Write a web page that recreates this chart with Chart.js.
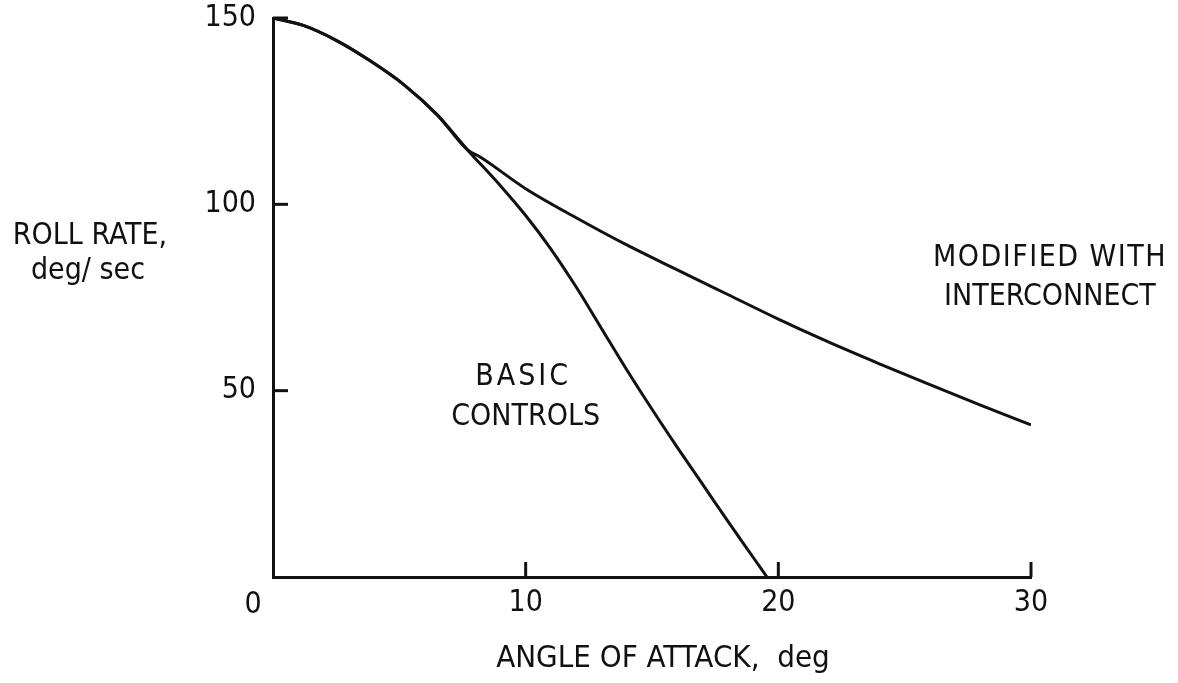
<!DOCTYPE html>
<html>
<head>
<meta charset="utf-8">
<title>Roll rate vs angle of attack</title>
<script src="https://cdn.jsdelivr.net/npm/chart.js@4/dist/chart.umd.min.js"></script>
<style>
  html, body { margin: 0; padding: 0; background: #fff; }
  #chart { display: block; }
</style>
</head>
<body>
<canvas id="chart" width="1178" height="683"></canvas>
<script>
// --- data ---
const basicAngle = [0, 1.2, 2.5, 3.8, 5.2, 6.5, 7.7, 9, 10, 11, 12, 13, 14, 15, 16, 17, 18, 19, 19.55];
const basicRate  = [150, 148, 144, 138.7, 132, 124, 114.6, 105, 97, 88, 77.8, 66.7, 55.6, 45, 34.8, 24.9, 15, 5.3, 0];

const modAngle = [0, 1.2, 2.5, 3.8, 5.2, 6.5, 7.7, 8.2, 10, 12, 14, 16, 18, 20, 22, 24, 26, 28, 30];
const modRate  = [150, 148, 144, 138.7, 132, 124, 114.6, 112.7, 104.2, 96.4, 89.1, 82.4, 75.8, 69.2, 63, 57.2, 51.6, 46.1, 40.8];

const xTickValues = [0, 10, 20, 30];
const yTickValues = [50, 100, 150];

const FONT = '"Liberation Sans Narrow", "DejaVu Sans Condensed", "Liberation Sans", sans-serif';
const INK = '#111';

function toPoints(xs, ys) {
    return xs.map((x, i) => ({ x: x, y: ys[i] }));
}

// labels, inward ticks and the odd "0" at the origin
const annotate = {
    id: 'annotate',
    afterDraw(chart) {
        const ctx = chart.ctx;
        const xs = chart.scales.x;
        const ys = chart.scales.y;
        const area = chart.chartArea;

        ctx.save();
        ctx.strokeStyle = INK;
        ctx.lineWidth = 3;
        ctx.lineCap = 'butt';
        yTickValues.forEach(v => {
            const py = ys.getPixelForValue(v);
            ctx.beginPath();
            ctx.moveTo(area.left, py);
            ctx.lineTo(area.left + 15, py);
            ctx.stroke();
        });
        xTickValues.filter(v => v > 0).forEach(v => {
            const px = xs.getPixelForValue(v);
            ctx.beginPath();
            ctx.moveTo(px, area.bottom);
            ctx.lineTo(px, area.bottom - 15);
            ctx.stroke();
        });

        ctx.fillStyle = INK;
        ctx.textAlign = 'center';
        ctx.textBaseline = 'middle';
        ctx.font = '30px ' + FONT;
        ctx.fillText('0', xs.getPixelForValue(0) - 20, area.bottom + 28);

        // axis titles
        ctx.fillText('ROLL RATE,', 90, 236);
        ctx.fillText('deg/ sec', 88, 271);
        ctx.font = '31px ' + FONT;
        ctx.fillText('ANGLE OF ATTACK,  deg', 663, 659);

        // curve labels, anchored to data coordinates
        ctx.font = '30px ' + FONT;
        ctx.letterSpacing = '3px';
        ctx.fillText('BASIC', xs.getPixelForValue(9.9), ys.getPixelForValue(53.5));
        ctx.letterSpacing = '0px';
        ctx.fillText('CONTROLS', xs.getPixelForValue(10.0), ys.getPixelForValue(43));
        ctx.letterSpacing = '1.5px';
        ctx.fillText('MODIFIED WITH', xs.getPixelForValue(30.75), ys.getPixelForValue(85.5));
        ctx.letterSpacing = '0px';
        ctx.fillText('INTERCONNECT', xs.getPixelForValue(30.75), ys.getPixelForValue(75));
        ctx.restore();
    }
};

const lineStyle = {
    borderColor: INK,
    borderWidth: 3,
    pointRadius: 0,
    fill: false,
    cubicInterpolationMode: 'monotone'
};

new Chart(document.getElementById('chart'), {
    type: 'line',
    data: {
        datasets: [
            Object.assign({ label: 'BASIC CONTROLS', data: toPoints(basicAngle, basicRate) }, lineStyle),
            Object.assign({ label: 'MODIFIED WITH INTERCONNECT', data: toPoints(modAngle, modRate) }, lineStyle)
        ]
    },
    options: {
        responsive: false,
        animation: false,
        layout: { padding: { top: 18, right: 147, left: 0, bottom: 0 } },
        plugins: {
            legend: { display: false },
            tooltip: { enabled: false }
        },
        scales: {
            x: {
                type: 'linear',
                min: 0,
                max: 30,
                afterFit: s => { s.height = 106; s.paddingLeft = 0; s.paddingRight = 0; },
                afterBuildTicks: s => { s.ticks = xTickValues.map(v => ({ value: v })); },
                grid: { display: false, drawTicks: false },
                border: { display: true, color: INK, width: 3 },
                ticks: {
                    padding: 8,
                    color: INK,
                    font: { family: FONT, size: 30 },
                    callback: v => (v === 0 ? '' : String(v))
                }
            },
            y: {
                type: 'linear',
                min: 0,
                max: 150,
                afterFit: s => { s.width = 273; s.paddingTop = 0; s.paddingBottom = 0; },
                afterBuildTicks: s => { s.ticks = yTickValues.map(v => ({ value: v })); },
                grid: { display: false, drawTicks: false },
                border: { display: true, color: INK, width: 3 },
                ticks: {
                    padding: 17,
                    color: INK,
                    font: { family: FONT, size: 30 },
                    callback: v => String(v)
                }
            }
        }
    },
    plugins: [annotate]
});
</script>
</body>
</html>
